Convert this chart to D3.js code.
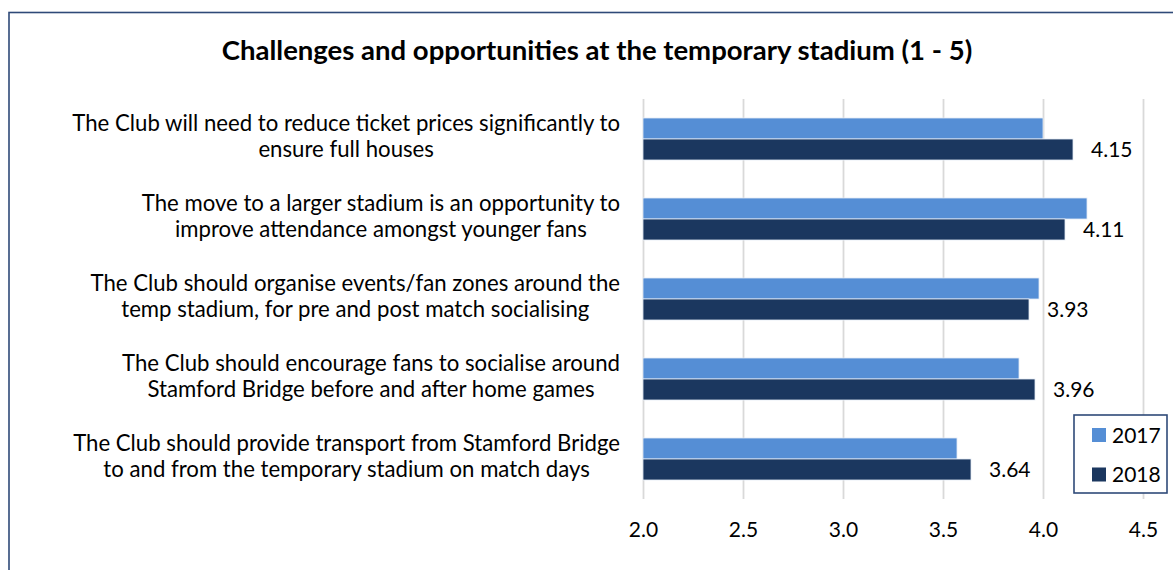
<!DOCTYPE html>
<html>
<head>
<meta charset="utf-8">
<script src="https://cdn.jsdelivr.net/npm/d3@7/dist/d3.min.js"></script>
<style>
  html, body { margin: 0; padding: 0; background: #ffffff; }
  svg { display: block; }
  text { font-family: Lato, "Open Sans", sans-serif; fill: #000; }
</style>
</head>
<body>
<svg id="chart" width="1173" height="570"></svg>
<script>
// Survey statements (each split over two lines)
const categories = [
  ["The Club will need to reduce ticket prices significantly to", "ensure full houses"],
  ["The move to a larger stadium is an opportunity to", "improve attendance amongst younger fans"],
  ["The Club should organise events/fan zones around the", "temp stadium, for pre and post match socialising"],
  ["The Club should encourage fans to socialise around", "Stamford Bridge before and after home games"],
  ["The Club should provide transport from Stamford Bridge", "to and from the temporary stadium on match days"]
];
const seriesNames = ["2017", "2018"];
const values2017 = [4.00, 4.22, 3.98, 3.88, 3.57];
const values2018 = [4.15, 4.11, 3.93, 3.96, 3.64];
const xTicks = [2.0, 2.5, 3.0, 3.5, 4.0, 4.5];
const title = "Challenges and opportunities at the temporary stadium (1 - 5)";

const colors = { "2017": "#558ED5", "2018": "#1B375F" };
const frameColor = "#2F4A78";

const svg = d3.select("#chart");
const W = 1173, H = 570;

// Outer chart frame (runs off the right and bottom edges)
svg.append("rect")
  .attr("x", 9).attr("y", 12.5)
  .attr("width", W + 10).attr("height", H + 10)
  .attr("fill", "#fff")
  .attr("stroke", frameColor).attr("stroke-width", 1.6);

const plot = { left: 643, right: 1143, top: 99, bottom: 499 };
const labelRight = 620;

const x = d3.scaleLinear().domain([2, 4.5]).range([plot.left, plot.right]);
const y = d3.scaleBand().domain(d3.range(categories.length)).range([plot.top, plot.bottom]);
const ySub = d3.scaleBand().domain(seriesNames).range([19, 61]);

// Measure text width at a given size/weight
function measure(str, size, weight) {
  const probe = svg.append("text").attr("font-size", size).attr("font-weight", weight).text(str);
  const w = probe.node().getComputedTextLength();
  probe.remove();
  return w;
}
// Scale a font so the widest string fits a target width
function fitFont(strings, weight, target) {
  const maxW = d3.max(strings, s => measure(s, 20, weight));
  return 20 * target / maxW;
}

// Title
const titleSize = fitFont([title], "bold", 751);
svg.append("text")
  .attr("x", 597).attr("y", 60)
  .attr("text-anchor", "middle")
  .attr("font-weight", "bold")
  .attr("font-size", titleSize)
  .text(title);

// Vertical gridlines and tick labels
const axis = d3.axisBottom(x)
  .tickValues(xTicks)
  .tickFormat(d3.format(".1f"))
  .tickSizeInner(-(plot.bottom - plot.top))
  .tickSizeOuter(0)
  .tickPadding(23);

const gAxis = svg.append("g")
  .attr("transform", `translate(0,${plot.bottom})`)
  .call(axis);
gAxis.select(".domain").remove();
gAxis.selectAll(".tick line").attr("stroke", "#d9d9d9").attr("stroke-width", 1.8);
gAxis.selectAll(".tick text")
  .attr("font-family", "Lato, 'Open Sans', sans-serif")
  .attr("font-size", 21)
  .attr("fill", "#000");

// Category labels: lines centred within a block that is right-aligned to the plot
const labelSize = fitFont(categories.flat(), "normal", 548);
const labels = svg.append("g").selectAll("text")
  .data(categories)
  .join("text")
  .attr("text-anchor", "middle")
  .attr("font-size", labelSize)
  .attr("transform", (d, i) => {
    const blockW = d3.max(d, s => measure(s, labelSize, "normal"));
    return `translate(${labelRight - blockW / 2},${y(i) + y.bandwidth() / 2})`;
  });
labels.selectAll("tspan")
  .data(d => d)
  .join("tspan")
  .attr("x", 0)
  .attr("y", (d, j) => j === 0 ? -8 : 18)
  .text(d => d);

// Bars
const rows = categories.map((c, i) => ({ i, vals: { "2017": values2017[i], "2018": values2018[i] } }));
const gRows = svg.append("g").selectAll("g")
  .data(rows)
  .join("g")
  .attr("transform", d => `translate(0,${y(d.i)})`);

gRows.selectAll("rect")
  .data(d => seriesNames.map(s => ({ s, v: d.vals[s] })))
  .join("rect")
  .attr("x", x(2))
  .attr("y", d => ySub(d.s))
  .attr("width", d => x(d.v) - x(2))
  .attr("height", ySub.bandwidth())
  .attr("fill", d => colors[d.s])
  .attr("stroke", "#e4ebf5")
  .attr("stroke-width", 0.8);

// Value labels on the 2018 bars
gRows.append("text")
  .attr("x", d => x(d.vals["2018"]) + 18)
  .attr("y", ySub("2018") + ySub.bandwidth() / 2)
  .attr("dy", "0.36em")
  .attr("font-size", 21)
  .text(d => d3.format(".2f")(d.vals["2018"]));

// Legend
const legend = svg.append("g").attr("transform", "translate(1074,415)");
legend.append("rect")
  .attr("width", 93).attr("height", 78)
  .attr("fill", "#fff")
  .attr("stroke", frameColor).attr("stroke-width", 1.6);
const items = legend.selectAll("g.item")
  .data(seriesNames)
  .join("g")
  .attr("class", "item")
  .attr("transform", (d, i) => `translate(18,${20 + i * 39.5})`);
items.append("rect")
  .attr("x", 0).attr("y", -7)
  .attr("width", 14).attr("height", 14)
  .attr("fill", d => colors[d]);
items.append("text")
  .attr("x", 20).attr("y", 0)
  .attr("dy", "0.36em")
  .attr("font-size", 21)
  .text(d => d);
</script>
</body>
</html>
